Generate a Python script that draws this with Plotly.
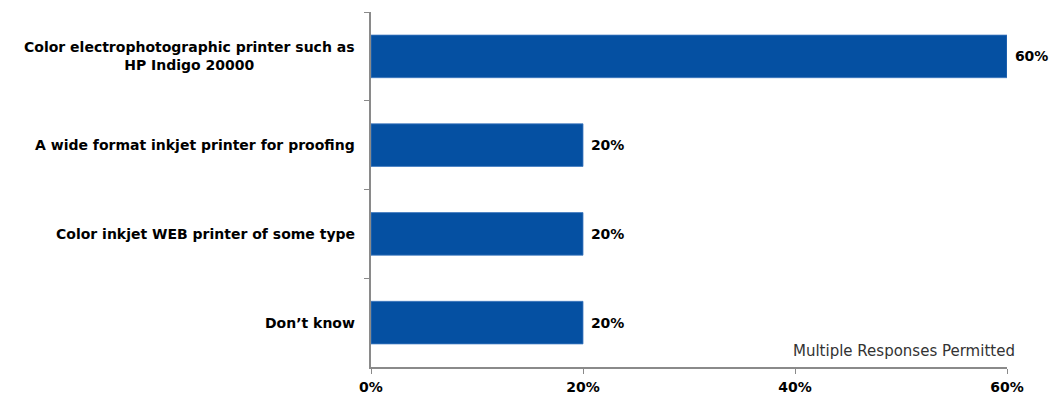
import plotly.graph_objects as go

categories = [
    "Color electrophotographic printer such as<br>HP Indigo 20000",
    "A wide format inkjet printer for proofing",
    "Color inkjet WEB printer of some type",
    "Don’t know",
]
values = [0.60, 0.20, 0.20, 0.20]
value_labels = ["60%", "20%", "20%", "20%"]
x_tick_vals = [0, 0.2, 0.4, 0.6]
x_tick_text = ["0%", "20%", "40%", "60%"]

FONT = "DejaVu Sans"
BAR_COLOR = "#0550A2"
AXIS_COLOR = "#8a8a8a"

fig = go.Figure(
    go.Bar(
        y=categories,
        x=values,
        orientation="h",
        marker=dict(color=BAR_COLOR, line=dict(color="#3f78bf", width=0.8)),
        text=["\u00a0" + t for t in value_labels],
        textposition="outside",
        cliponaxis=False,
        textfont=dict(family=FONT, size=14, color="#000000", weight="bold"),
        width=0.48,
    )
)

# Category labels, centred across their lines
for cat in categories:
    fig.add_annotation(
        x=0, xref="paper", y=cat, yref="y",
        text=f"<b>{cat}</b>", showarrow=False,
        xanchor="right", xshift=-14, align="center",
        font=dict(family=FONT, size=14, color="#000000"),
    )

fig.add_annotation(
    x=1.0, xref="paper", y=0, yref="paper",
    text="Multiple Responses Permitted", showarrow=False,
    xanchor="right", yanchor="bottom", xshift=10, yshift=5,
    font=dict(family=FONT, size=15, color="#333333"),
)

fig.update_layout(
    width=1061, height=400,
    margin=dict(l=371, r=54, t=12, b=33),
    plot_bgcolor="white", paper_bgcolor="white",
    showlegend=False,
    xaxis=dict(
        range=[0, 0.6],
        automargin=False,
        tickvals=x_tick_vals, ticktext=x_tick_text,
        showgrid=False, zeroline=False,
        showline=True, linecolor=AXIS_COLOR, linewidth=1.5,
        ticks="outside", ticklen=5, tickcolor=AXIS_COLOR,
        ticklabelstandoff=1,
        tickfont=dict(family=FONT, size=14, color="#000000", weight="bold"),
    ),
    yaxis=dict(
        autorange="reversed",
        automargin=False,
        showticklabels=False,
        showgrid=False, zeroline=False,
        showline=True, linecolor=AXIS_COLOR, linewidth=1.5,
        ticks="outside", ticklen=5, tickcolor=AXIS_COLOR,
        tickson="boundaries",
    ),
)

fig.write_html("out.html")
